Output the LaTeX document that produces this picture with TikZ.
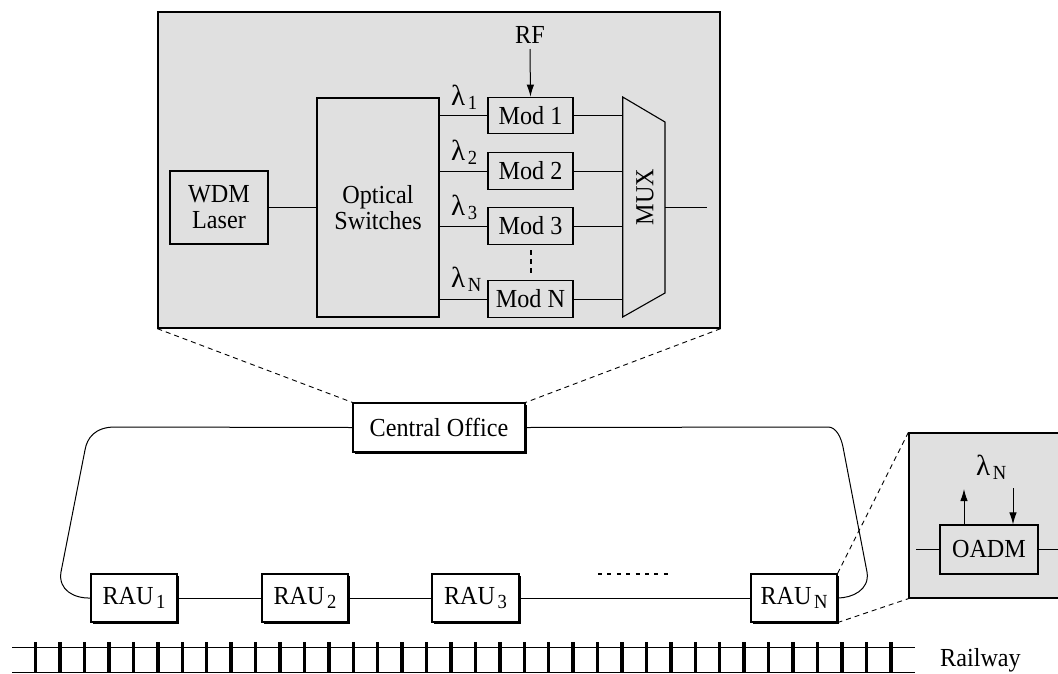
\documentclass[tikz,border=0pt]{standalone}
\usepackage{fontspec}
\setmainfont[FakeStretch=0.93]{Liberation Serif}
\newfontfamily\lamfont{Liberation Serif}
\usetikzlibrary{arrows.meta,shadows}
\definecolor{bggray}{RGB}{224,224,224}
\newcommand\sbs[1]{\hspace{2.5pt}\raisebox{-4.5pt}{\fontsize{20}{20}\selectfont #1}}
\newcommand\lam[1]{{\lamfont\fontsize{29}{29}\selectfont λ}\sbs{#1}}
\tikzset{
  every node/.style={font=\fontsize{26}{28}\selectfont, inner sep=0pt},
  blk/.style={draw, line width=1.1pt, align=center},
  shbox/.style={draw, line width=1.1pt, fill=white,
    drop shadow={shadow xshift=1.6pt, shadow yshift=-1.6pt, fill=black, opacity=1}},
  ln/.style={line width=1pt},
  dsh/.style={line width=0.9pt, dash pattern=on 5pt off 4pt},
  arr/.style={line width=1pt, -{Latex[length=12pt,width=7.5pt]}},
  panel/.style={draw, line width=1.3pt, fill=bggray},
}
\begin{document}
\begin{tikzpicture}[x=1pt,y=-1pt]
\useasboundingbox (0,0) rectangle (1058,673);
\clip (0,0) rectangle (1058,673);
% ---------- top panel ----------
\node[panel, minimum width=562pt, minimum height=316pt] (top) at (439,170) {};
\node[blk, minimum width=98pt, minimum height=73pt] (wdm) at (219,207.5) {WDM\\[-2pt]Laser};
\node[blk, minimum width=122pt, minimum height=219pt] (osw) at (378,207.5) {Optical\\[-2pt]Switches};
\node[blk, minimum width=85pt, minimum height=36.5pt] (m1) at (530.5,115.5) {Mod 1};
\node[blk, minimum width=85pt, minimum height=36.5pt] (m2) at (530.5,171) {Mod 2};
\node[blk, minimum width=85pt, minimum height=36.5pt] (m3) at (530.5,226) {Mod 3};
\node[blk, minimum width=85pt, minimum height=36.5pt] (mn) at (530.5,299) {Mod N};
% MUX trapezoid
\draw[line width=1.1pt] (622.7,97) -- (665,122) -- (665,293) -- (622.7,317) -- cycle;
\coordinate (muxL) at (622.7,207);
\coordinate (muxR) at (665,207);
\coordinate (out) at (707,207);
\node[rotate=90] (mux) at (645,197) {MUX};
\draw[ln] (wdm.east) -- (osw.west |- wdm.east);
\foreach \m in {m1,m2,m3,mn}{
  \draw[ln] (osw.east |- \m.west) -- (\m.west);
  \draw[ln] (\m.east) -- (\m.east -| muxL);
}
\draw[ln] (muxR) -- (out);
\node (rf) at (530,35) {RF};
\coordinate (rfs) at (530,49);
\draw[arr] (rfs) -- (m1.north);
\node[anchor=base west] (l1) at (451,105) {\lam{1}};
\node[anchor=base west] (l2) at (451,160) {\lam{2}};
\node[anchor=base west] (l3) at (451,215) {\lam{3}};
\node[anchor=base west] (ln) at (451,287) {\lam{N}};
\coordinate (vd1) at (531,250);
\coordinate (vd2) at (531,274);
\draw[line width=2pt, dash pattern=on 5pt off 4pt] (vd1) -- (vd2);
% ---------- ring ----------
\node[shbox, minimum width=172pt, minimum height=49pt] (co) at (439,427.5) {Central Office};
\node[shbox, minimum width=86pt, minimum height=48pt] (r1) at (134,598) {RAU\sbs{1}};
\node[shbox, minimum width=86pt, minimum height=48pt] (r2) at (305,598) {RAU\sbs{2}};
\node[shbox, minimum width=87pt, minimum height=48pt] (r3) at (475.5,598) {RAU\sbs{3}};
\node[shbox, minimum width=86pt, minimum height=48pt] (rn) at (794,598) {RAU\sbs{N}};
\draw[ln] (co.west) -- (115,427) .. controls (95,427) and (87,438) .. (85,450)
  -- (61,572) .. controls (58,590) and (74,598.5) .. (r1.west);
\draw[ln] (co.east) -- (828,427) .. controls (836,427) and (841,437) .. (843,447)
  -- (867,572) .. controls (870,590) and (852,598) .. (rn.east);
\draw[ln] (r1) -- (r2);
\draw[ln] (r2) -- (r3);
\draw[ln] (r3) -- (rn);
\coordinate (hd1) at (598,574);
\coordinate (hd2) at (671,574);
\draw[line width=2.6pt, dash pattern=on 4pt off 5.4pt] (hd1) -- (hd2);
\draw[dsh] (top.south west) -- (co.north west);
\draw[dsh] (top.south east) -- (co.north east);
% ---------- OADM inset ----------
\node[panel, minimum width=160pt, minimum height=165pt] (ins) at (989,515.5) {};
\node[blk, minimum width=98pt, minimum height=49pt] (oadm) at (989,549.5) {OADM};
\coordinate (oin) at (916,549.5);
\coordinate (oout) at (1060,549.5);
\draw[ln] (oin) -- (oadm.west);
\draw[ln] (oadm.east) -- (oout);
\coordinate (upT) at (964,489);
\coordinate (dnT) at (1013,488);
\draw[arr] (oadm.north -| upT) -- (upT);
\draw[arr] (dnT) -- (oadm.north -| dnT);
\node[anchor=base west] (lno) at (976,475) {\lam{N}};
\draw[dsh] (rn.north east) -- (ins.north west);
\draw[dsh] (rn.south east) -- (ins.south west);
% ---------- railway ----------
\coordinate (ra1) at (12,647);
\coordinate (ra2) at (915,647);
\coordinate (rb1) at (12,672);
\coordinate (rb2) at (915,672);
\draw[ln] (ra1) -- (ra2);
\draw[ln] (rb1) -- (rb2);
\foreach \i in {0,...,35}{
  \draw[line width=3.5pt] ({35.7+24.43*\i},642) -- ({35.7+24.43*\i},673);
}
\node[anchor=west] (rw) at (940,660) {Railway};
\end{tikzpicture}
\end{document}
